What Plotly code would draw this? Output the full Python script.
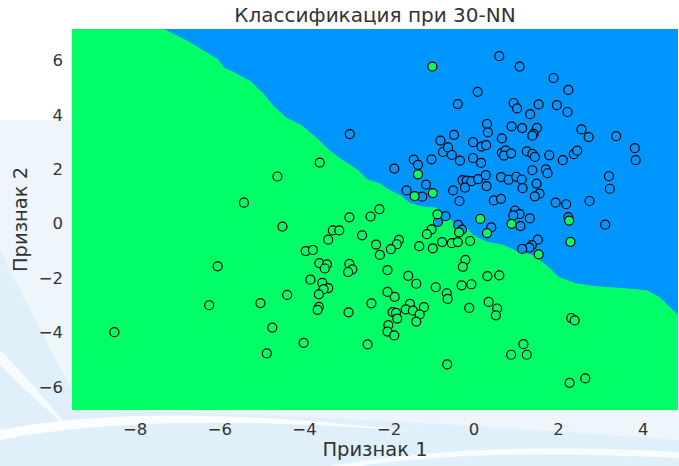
import numpy as np
import plotly.graph_objects as go

# ---- data ----
blue_x = [-2.93, -0.79, -0.73, -0.61, -1.00, -1.42, -1.32, -1.88, 0.60, 1.08,
          1.88, 2.23, 0.09, -0.38, 0.94, 1.02, 1.53, 1.96, 1.33, 2.21,
          0.31, 0.33, 0.89, 1.14, 1.49, 1.41, 1.38, 2.54, 2.71, 3.36,
          3.80, 3.82, -0.47, 0.66, -0.02, -0.52, 0.18, 0.29, -0.33, -0.02,
          0.17, 0.66, 0.75, 0.71, 0.88, 1.25, 1.38, 1.44, 1.78, 2.10,
          2.36, 2.44, 1.38, 1.70, 1.74, 3.19, -1.13, -1.59, -1.22, -0.49,
          -0.27, -0.17, -0.06, 0.10, 0.28, 0.30, -0.21, -0.34, 0.64, 0.82,
          1.00, 1.13, 1.15, 1.48, 1.55, 1.44, 0.47, 0.64, 1.93, 2.18,
          2.73, 3.21, 3.10, 2.23, 0.97, 1.08, 0.93, 1.32, 1.10, 0.41,
          -0.67, -0.85, -0.37, -0.28, 1.51, 1.37, 1.31, 1.14]
blue_y = [3.29, 3.05, 2.63, 2.80, 2.36, 2.35, 2.16, 2.02, 6.15, 5.77,
          5.35, 4.91, 4.84, 4.39, 4.43, 4.23, 4.38, 4.35, 4.02, 4.10,
          3.66, 3.35, 3.57, 3.51, 3.52, 3.30, 3.23, 3.46, 3.18, 3.21,
          2.77, 2.33, 3.26, 3.13, 2.99, 2.52, 2.83, 2.88, 2.31, 2.41,
          2.23, 2.60, 2.69, 2.50, 2.58, 2.65, 2.56, 2.45, 2.51, 2.33,
          2.55, 2.68, 1.96, 1.99, 1.85, 1.74, 1.43, 1.22, 0.99, 1.22,
          1.60, 1.58, 1.56, 1.63, 1.78, 1.38, 1.32, 0.83, 1.71, 1.61,
          1.72, 1.62, 1.30, 1.47, 1.10, 1.00, 0.85, 0.91, 0.77, 0.71,
          0.83, 1.28, -0.04, 0.24, 0.48, 0.35, 0.30, 0.19, -0.09, -0.14,
          0.27, 0.06, -0.05, -0.22, -0.59, -0.79, -0.88, -0.93]

green_x = [-0.98, -3.64, -4.64, -1.32, -1.40, -0.97, 2.25, 2.28, 0.89, 0.15,
           0.31, -0.86, -0.35, -1.00, -1.11, -1.77, -1.82, -1.96, -1.29, -0.97,
           -0.75, -0.52, -0.38, -0.09, 1.53, -0.20, -0.26, -1.55, -1.36, -0.90,
           -0.64, -0.29, -0.06, 0.32, 0.60, -1.87, -2.04, -5.43, -4.52, -6.05,
           -2.94, -2.44, -2.23, -3.33, -3.18, -3.44, -2.64, -2.31, -2.22, -3.97,
           -3.80, -3.65, -3.47, -3.52, -2.94, -2.87, -2.97, -3.86, -3.58, -3.44,
           -3.55, -3.66, -4.41, -2.04, -6.25, -5.04, -4.76, -4.89, -4.02, -3.66,
           -3.69, -2.96, -2.42, -1.92, -1.84, -1.81, -2.02, -2.04, -1.88, -2.51,
           -0.62, -1.51, -1.61, -1.44, -1.18, -1.28, -1.36, -0.11, 0.35, 0.55,
           0.52, 2.30, 2.38, 1.17, 0.88, 1.25, -0.63, 2.26, 2.63, -8.49]
green_y = [5.77, 2.24, 1.73, 1.81, 1.01, 1.12, 0.11, -0.67, -0.01, 0.17,
           -0.35, 0.34, -0.32, -0.21, -0.39, -0.60, -0.76, -0.94, -0.83, -0.91,
           -0.68, -0.72, -0.68, -0.64, -1.13, -1.33, -1.59, -1.92, -2.21, -2.34,
           -2.56, -2.27, -2.23, -1.93, -1.90, -2.69, -1.71, 0.77, -0.11, -1.57,
           0.23, 0.26, 0.53, -0.25, -0.25, -0.59, -0.43, -0.77, -1.15, -1.01,
           -0.97, -1.45, -1.50, -1.65, -1.48, -1.68, -1.78, -2.06, -2.18, -2.37,
           -2.41, -2.60, -2.62, -2.51, -3.00, -2.92, -3.82, -4.77, -4.38, -3.06,
           -3.17, -3.26, -2.93, -3.25, -3.28, -3.49, -3.73, -3.97, -4.11, -4.44,
           -2.77, -2.95, -3.15, -3.20, -3.07, -3.34, -3.60, -3.10, -2.88, -3.12,
           -3.37, -3.47, -3.56, -4.43, -4.82, -4.82, -5.17, -5.85, -5.69, -3.99]

# decision boundary of the 30-NN classifier
boundary_x = [-7.33, -6.76, -6.37, -6.05, -5.90, -5.66, -5.27, -4.96, -4.72, -4.41,
              -4.09, -3.74, -3.44, -3.15, -2.92, -2.73, -2.52, -2.21, -1.98, -1.74,
              -1.51, -1.19, -0.88, -0.68, -0.49, -0.33, -0.17, -0.09, -0.02, 0.30,
              0.69, 1.00, 1.40, 1.71, 2.02, 2.42, 2.92, 3.51, 4.09, 4.38,
              4.61, 4.82]
boundary_y = [7.15, 6.71, 6.34, 6.04, 5.73, 5.55, 5.22, 4.76, 4.29, 3.87,
              3.63, 3.19, 2.72, 2.38, 2.15, 1.95, 1.62, 1.46, 1.22, 1.04,
              0.76, 0.61, 0.58, 0.30, 0.06, -0.06, -0.14, -0.31, -0.43, -0.67,
              -0.79, -1.01, -1.16, -1.53, -1.98, -2.20, -2.31, -2.38, -2.46, -2.71,
              -3.05, -3.36]

x_ticks = [-8, -6, -4, -2, 0, 2, 4]
y_ticks = [-6, -4, -2, 0, 2, 4, 6]
title_text = "Классификация при 30-NN"
x_title = "Признак 1"
y_title = "Признак 2"

BLUE = "#0096ff"
GREEN = "#00ff66"

all_x = blue_x + green_x
all_y = blue_y + green_y
x_min, x_max = min(all_x) - 1, max(all_x) + 1
y_min, y_max = min(all_y) - 1, max(all_y) + 1

fig = go.Figure()
# blue class region: above the boundary
fig.add_trace(go.Scatter(
    x=[x_min, x_min] + boundary_x + [x_max, x_max],
    y=[y_max, y_max] + boundary_y + [boundary_y[-1], y_max],
    fill="toself", fillcolor=BLUE, mode="lines", line=dict(width=0),
    hoverinfo="skip", showlegend=False))
# green class region: below the boundary
fig.add_trace(go.Scatter(
    x=[x_min] + boundary_x + [x_max, x_max, x_min, x_min],
    y=[y_max] + boundary_y + [boundary_y[-1], y_min, y_min, y_max],
    fill="toself", fillcolor=GREEN, mode="lines", line=dict(width=0),
    hoverinfo="skip", showlegend=False))

fig.add_trace(go.Scatter(
    x=blue_x, y=blue_y, mode="markers",
    marker=dict(size=9, color=BLUE, line=dict(color="black", width=1.2)),
    showlegend=False))
fig.add_trace(go.Scatter(
    x=green_x, y=green_y, mode="markers",
    marker=dict(size=9, color=GREEN, line=dict(color="black", width=1.2)),
    showlegend=False))

# decorative light-blue background (pixel positions -> paper coords)
L, R, T, B = 72, 678, 29, 410
def px(x):
    return (x - L) / (R - L)
def py(y):
    return (B - y) / (B - T)

def path(points):
    s = "M {:.4f} {:.4f}".format(px(points[0][0]), py(points[0][1]))
    for p in points[1:]:
        if len(p) == 4:
            s += " Q {:.4f} {:.4f} {:.4f} {:.4f}".format(px(p[0]), py(p[1]), px(p[2]), py(p[3]))
        else:
            s += " L {:.4f} {:.4f}".format(px(p[0]), py(p[1]))
    return s + " Z"

shapes = [
    dict(type="path", xref="paper", yref="paper", layer="below", line_width=0,
         fillcolor="#eef6fc",
         path=path([(0, 120), (72, 120), (72, 410), (679, 410), (679, 466), (0, 466)])),
    dict(type="path", xref="paper", yref="paper", layer="below", line_width=0,
         fillcolor="#e0f0fa",
         path=path([(0, 250), (40, 330, 72, 390), (72, 410), (300, 412, 679, 440),
                    (679, 466), (0, 466)])),
    dict(type="path", xref="paper", yref="paper", layer="below", line_width=0,
         fillcolor="#ffffff", opacity=0.85,
         path=path([(0, 430), (150, 400, 420, 432), (150, 410, 0, 440)])),
    dict(type="path", xref="paper", yref="paper", layer="below", line_width=0,
         fillcolor="#ffffff", opacity=0.8,
         path=path([(330, 466), (480, 440, 679, 452), (679, 458), (480, 448, 360, 466)])),
    dict(type="path", xref="paper", yref="paper", layer="below", line_width=0,
         fillcolor="#ffffff", opacity=0.7,
         path=path([(0, 350), (30, 380, 70, 430), (30, 395, 0, 365)])),
]

fig.update_layout(
    width=679, height=466,
    margin=dict(l=L, r=679 - R, t=T, b=466 - B, autoexpand=False),
    paper_bgcolor="white", plot_bgcolor=GREEN,
    font=dict(family="DejaVu Sans", color="#333333", size=16),
    title=dict(text=title_text, xref="paper", x=0.5, xanchor="center",
               yref="container", y=0.968, yanchor="middle",
               font=dict(size=20, color="#333333")),
    shapes=shapes,
    xaxis=dict(range=[x_min, x_max], tickvals=x_ticks, showgrid=False, zeroline=False,
               ticks="", showline=False, automargin=False, ticklabelstandoff=7,
               title=dict(text=x_title, font=dict(size=19.5), standoff=4),
               tickfont=dict(size=16.5)),
    yaxis=dict(range=[y_min, y_max], tickvals=y_ticks, showgrid=False, zeroline=False,
               ticks="", showline=False, automargin=False, ticklabelstandoff=8,
               title=dict(text=y_title, font=dict(size=19.5), standoff=5),
               tickfont=dict(size=16.5)),
)

fig.write_html(
    "out.html",
    config={"displayModeBar": False},
    post_script="document.body.style.margin='0';document.body.style.overflow='hidden';",
)
